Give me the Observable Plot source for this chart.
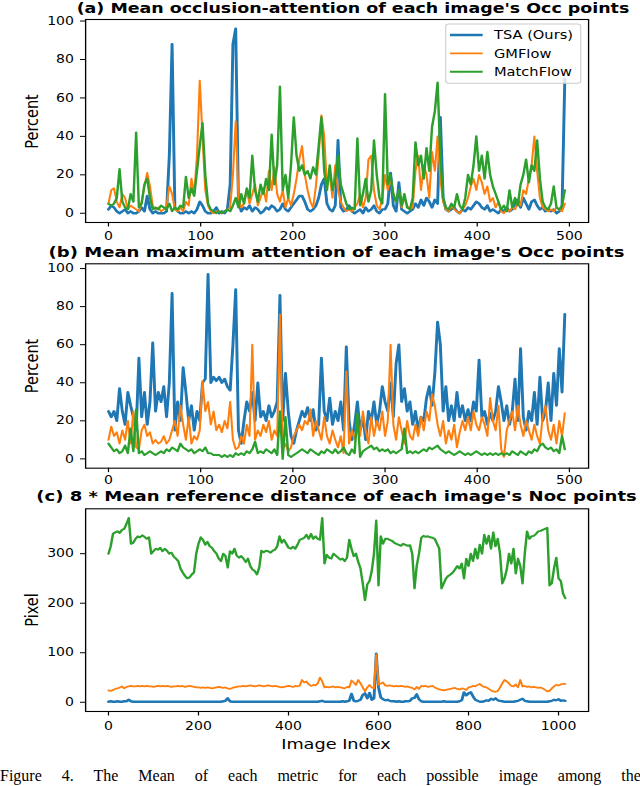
<!DOCTYPE html>
<html><head><meta charset="utf-8">
<script src="https://cdn.jsdelivr.net/npm/d3@7"></script>
<script src="https://cdn.jsdelivr.net/npm/@observablehq/plot@0.6"></script>
<style>
html,body{margin:0;padding:0;background:#fff;overflow:hidden;width:640px;height:786px;}
#stage{position:absolute;left:0;top:0;width:524.6px;height:786px;transform:scaleX(1.22);transform-origin:0 0;}
#caption{position:absolute;left:0;top:767px;width:640px;font-family:"Liberation Serif",serif;font-size:16px;line-height:18px;white-space:nowrap;color:#000;word-spacing:16px;}
</style></head>
<body>
<div id="stage"></div>
<div id="caption">Figure 4. The Mean of each metric for each possible image among the</div>
<script>
// ---------- data ----------
const seriesNames = ["TSA (Ours)", "GMFlow", "MatchFlow"];
const stepAB = 3;   // image-index spacing of samples in panels (a),(b)
const stepC = 5;    // image-index spacing of samples in panel (c)
const xTicksAB = [0, 100, 200, 300, 400, 500];
const xTicksC = [0, 200, 400, 600, 800, 1000];
const yTicksAB = [0, 20, 40, 60, 80, 100];
const yTicksC = [0, 100, 200, 300];

// (a) occlusion-attention, percent
const tsaA = [2,4,3,1,0,1,2,0,1,0, 0,1,3,1,9,2,0,1,0,0, 0,1,30,88,3,1,0,0,1,0, 1,0,2,6,4,1,0,0,1,3,
  0,1,0,2,15,88,96,6,1,3, 2,4,1,3,2,0,1,3,2,4, 3,1,2,5,2,1,3,5,7,9, 9,6,2,1,2,4,8,15,18,5,
  2,1,4,38,3,1,2,4,1,0, 1,2,0,3,1,2,4,1,0,2, 2,5,21,4,1,16,2,1,0,1, 2,5,3,7,4,8,6,3,7,5,
  50,8,2,1,2,3,1,0,2,1, 3,2,4,6,5,3,2,4,1,2, 1,0,2,1,3,1,2,5,7,3, 8,5,2,6,7,4,2,3,1,2, 1,2,0,1,3,70];
const gmA = [5,12,13,6,3,10,8,2,4,3, 2,1,6,14,21,14,4,2,3,1, 2,4,14,10,2,1,3,1,6,4, 18,10,30,69,40,12,4,1,0,1,
  1,0,1,2,3,20,48,8,3,5, 12,5,10,15,4,8,13,6,22,12, 24,10,6,12,3,8,4,10,18,28, 35,20,12,6,3,14,30,51,40,14,
  20,8,25,12,6,3,1,2,1,3, 5,10,3,8,28,30,12,4,2,8, 20,12,18,10,6,12,3,8,4,2, 3,22,30,12,25,20,8,32,22,40,
  18,6,2,1,4,2,1,0,2,4, 8,14,18,12,20,16,10,14,6,8, 3,6,1,0,2,1,3,2,6,4, 12,10,18,25,40,22,8,3,2,1, 2,1,3,2,1,5];
const mfA = [5,4,5,8,23,6,3,2,10,6, 42,3,5,15,18,8,2,3,2,4, 3,2,5,1,3,2,4,3,19,8, 13,9,22,35,47,20,5,2,1,0,
  1,0,1,2,1,4,8,3,10,5, 13,8,30,12,6,15,10,18,12,41, 15,25,66,12,20,8,25,50,30,22, 25,20,22,18,24,20,35,50,22,12,
  25,12,18,30,15,10,5,2,3,2, 39,4,10,18,6,12,38,20,8,5, 62,15,20,10,6,12,4,10,3,2, 8,37,25,30,18,34,22,45,53,68,
  30,8,3,2,5,3,10,4,2,8, 20,15,25,40,22,30,18,32,20,14, 10,6,2,4,1,12,3,8,4,15, 20,28,16,25,22,38,18,6,3,2, 5,14,3,2,4,12];

// (b) maximum attention, percent
const tsaB = [25,22,25,20,37,25,18,35,28,22, 15,53,22,35,18,30,61,25,35,30, 38,22,40,87,15,30,20,48,35,20, 28,15,25,20,40,42,97,40,43,41,
  43,40,42,38,36,60,89,15,8,20, 30,25,35,20,40,22,25,20,28,22, 25,30,86,20,45,25,12,8,15,20, 25,22,27,20,26,15,18,53,25,20,
  32,18,25,20,30,15,59,20,10,18, 30,15,22,10,25,20,30,18,25,38, 30,25,40,22,50,60,30,37,25,30, 18,25,15,22,20,32,38,28,45,72,
  60,25,38,20,28,20,35,22,28,20, 26,20,30,25,52,22,25,18,24,20, 25,38,30,20,28,18,25,42,20,58, 22,15,25,20,35,18,43,20,25,40, 20,45,28,58,35,76];
const gmB = [10,17,12,14,8,15,10,20,8,25, 6,5,15,18,12,14,8,10,8,9, 12,8,10,15,20,12,28,18,10,22, 8,12,10,15,41,25,30,18,25,15,
  18,14,20,16,30,10,5,6,12,8, 18,12,60,10,15,12,18,14,20,10, 15,12,76,5,8,4,6,12,15,18, 15,20,18,26,12,20,15,10,22,12,
  8,15,10,6,12,3,46,8,15,10, 20,12,25,15,8,22,12,20,15,25, 12,20,60,18,10,22,15,8,20,12, 10,18,12,22,15,25,20,34,28,18,
  12,20,8,15,10,18,6,14,20,15, 22,15,25,18,15,22,18,12,32,20, 15,28,5,1,15,20,25,15,28,18, 12,20,15,10,18,12,8,22,28,15, 10,18,8,20,12,24];
const mfB = [8,6,4,5,3,4,7,3,16,4, 26,3,4,2,3,4,3,2,3,4, 3,5,4,6,5,4,8,6,5,4, 5,3,4,5,4,6,3,3,2,2,
  2,1,2,1,2,1,3,2,3,2, 4,3,5,9,3,4,3,5,4,3, 5,2,25,0,22,2,1,2,3,4, 5,4,3,5,4,3,2,4,3,5,
  4,3,5,3,4,6,3,2,5,3, 24,1,4,5,6,7,5,6,4,5, 4,5,3,4,3,4,5,16,3,4, 3,4,3,4,5,4,6,5,6,7,
  5,4,3,4,3,2,3,4,3,2, 3,2,3,4,3,2,3,2,3,2, 3,2,3,2,3,2,4,3,2,4, 3,2,4,3,5,4,7,8,6,5, 6,4,5,3,12,5];

// (c) 8 * reference distance, pixel
const tsaC = [1,2,1,1,2,1,1,2,2,5,2,1,1,1,1,1,1,1,1,1, 1,1,1,1,1,1,1,1,1,1,1,1,1,1,1,1,1,1,1,1,
  1,1,1,1,1,1,1,1,1,1,1,2,3,8,2,1,1,1,1,1, 1,1,1,1,1,1,1,1,1,1,1,1,1,1,1,1,1,1,1,1,
  1,1,1,1,1,1,1,1,1,1,1,1,1,1,2,3,1,1,1,1, 1,1,1,1,2,1,2,3,17,3,2,3,5,15,18,8,19,5,8,98,
  30,10,6,4,5,3,2,2,1,2,1,1,2,2,3,8,9,16,6,2, 1,1,1,1,1,1,1,1,1,2,1,1,1,1,1,1,2,4,20,14,
  18,20,12,5,3,1,1,2,4,3,7,5,8,4,3,2,1,1,1,1, 1,2,3,5,7,3,2,1,1,1,1,1,1,1,1,1,2,3,5,4, 6,3,4,3];
const gmC = [24,23,25,27,28,30,32,28,31,32,33,32,32,33,32,33,32,33,32,32, 31,32,33,32,33,32,33,32,31,32,32,33,32,33,31,32,33,32,31,30,
  30,29,30,29,30,29,28,29,30,31,30,29,30,28,27,29,30,31,32,32, 33,32,33,34,33,32,33,34,33,32,33,34,33,32,33,32,31,30,31,32,
  33,32,31,33,32,34,45,40,42,36,33,35,34,38,50,42,30,31,30,31, 32,30,31,30,29,28,31,30,44,40,35,45,38,30,22,30,35,30,28,96,
  35,38,40,34,33,34,33,32,33,32,33,32,31,32,30,29,26,31,27,33, 32,33,31,32,33,30,28,26,25,24,25,26,27,28,29,27,26,28,27,25,
  30,31,33,32,35,37,33,31,30,27,24,22,21,23,30,38,45,42,38,33, 32,36,30,45,32,33,31,32,30,31,30,29,30,28,25,22,23,28,32,35, 34,36,37,37];
const mfC = [300,315,340,343,345,342,348,350,360,372,320,322,330,335,333,337,334,330,333,300,
  305,310,308,312,305,310,306,300,302,294,290,285,270,262,255,250,252,258,262,300,
  320,333,328,318,324,315,312,305,300,290,285,300,295,272,305,300,310,296,292,295,
  290,283,290,275,268,265,258,272,306,303,306,305,302,306,308,315,335,322,328,320,
  312,310,314,310,318,328,330,332,338,330,340,330,335,330,328,372,280,298,292,290,
  300,296,292,288,290,285,292,328,310,295,300,283,270,240,206,238,245,265,300,367,
  236,335,320,330,330,328,326,322,320,318,316,320,318,316,317,300,230,276,300,332,
  336,334,335,333,332,330,320,310,230,240,250,255,258,262,268,275,270,280,250,290,
  275,300,285,310,290,318,300,338,320,336,310,343,315,330,300,240,250,268,300,280,
  310,260,290,275,240,300,345,330,335,336,340,345,346,348,350,352,236,240,270,292,
  250,245,220,210];

// ---------- drawing ----------
const S = 1.22;              // horizontal stretch of the original figure
const W = 640 / S;
const ML = 85 / S, MR = (640 - 588) / S;
const colors = ["#1f77b4", "#ff7f0e", "#2ca02c"];
const widths = [2.4, 1.7, 2.0];
const stage = document.getElementById("stage");

function makePanel(cfg) {
  const marks = [
    Plot.axisX({ticks: cfg.xTicks, tickSize: 4.5, tickPadding: cfg.xPad, label: null, tickFormat: d => String(d), fontSize: 11.5}),
    Plot.axisY({ticks: cfg.yTicks, tickSize: 4.1, tickPadding: 5.5, label: null, tickFormat: d => String(d), fontSize: 11.5})
  ];
  cfg.series.forEach((vals, k) => {
    const rows = vals.map((v, i) => ({idx: i * cfg.step, val: v, name: seriesNames[k]}));
    marks.push(Plot.lineY(rows, {x: "idx", y: "val", stroke: colors[k], strokeWidth: widths[k], strokeLinejoin: "round"}));
  });
  marks.push(Plot.frame({stroke: "black", strokeWidth: 1.1}));
  const svg = Plot.plot({
    width: W, height: cfg.h, marginTop: cfg.mt, marginBottom: cfg.mb, marginLeft: ML, marginRight: MR,
    x: {domain: cfg.xDomain, label: null},
    y: {domain: cfg.yDomain, label: null},
    style: {fontFamily: "'DejaVu Sans'", fontSize: "11.5px", color: "black", background: "transparent", overflow: "visible"},
    marks
  });
  svg.style.position = "absolute";
  svg.style.left = "0px";
  svg.style.top = cfg.top + "px";
  svg.style.maxWidth = "none";
  stage.append(svg);
}

makePanel({series: [tsaA, gmA, mfA], step: stepAB, xDomain: [-24.8, 520.8], yDomain: [-4.8, 100.8],
  xTicks: xTicksAB, yTicks: yTicksAB, top: 0, mt: 19, h: 250, mb: 28, xPad: 4.6});
makePanel({series: [tsaB, gmB, mfB], step: stepAB, xDomain: [-24.8, 520.8], yDomain: [-4.9, 102.5],
  xTicks: xTicksAB, yTicks: yTicksAB, top: 250, mt: 13.3, h: 245, mb: 27.3, xPad: 3.2});
makePanel({series: [tsaC, gmC, mfC], step: stepC, xDomain: [-50.8, 1066.8], yDomain: [-18.6, 390.6],
  xTicks: xTicksC, yTicks: yTicksC, top: 495, mt: 13.3, h: 245, mb: 29, xPad: 5.5});

// titles, axis labels, legend
const cx = 336.5 / S;
const lx = 37.5 / S;
const legX = 445.7 / S, legY = 24, legW = 135 / S, legH = 59.3;
const rowsY = [35, 53.3, 71.7];
let legend = `<rect x="${legX}" y="${legY}" width="${legW}" height="${legH}" rx="2.5" fill="white" fill-opacity="0.8" stroke="#cccccc" stroke-width="0.9"/>`;
seriesNames.forEach((n, k) => {
  legend += `<line x1="${450 / S}" x2="${482.7 / S}" y1="${rowsY[k]}" y2="${rowsY[k]}" stroke="${colors[k]}" stroke-width="${widths[k]}"/>`;
  legend += `<text x="${494 / S}" y="${rowsY[k] + 4.3}" font-size="12">${n}</text>`;
});
const overlay = `<svg xmlns="http://www.w3.org/2000/svg" width="${W}" height="786" style="position:absolute;left:0;top:0;overflow:visible" font-family="DejaVu Sans" fill="black">
  <g font-weight="bold" text-anchor="middle">
    <text x="${353 / S}" y="13.4" font-size="14.3">(a) Mean occlusion-attention of each image's Occ points</text>
    <text x="${cx}" y="256.6" font-size="14.8">(b) Mean maximum attention of each image's Occ points</text>
    <text x="${cx}" y="501" font-size="14.8">(c) 8 * Mean reference distance of each image's Noc points</text>
  </g>
  <g font-size="14.5" text-anchor="middle">
    <text transform="translate(${lx},121.5) rotate(-90)">Percent</text>
    <text transform="translate(${lx},366) rotate(-90)">Percent</text>
    <text transform="translate(${lx},610) rotate(-90)">Pixel</text>
    <text x="${336 / S}" y="749.3">Image Index</text>
  </g>
  ${legend}
</svg>`;
stage.insertAdjacentHTML("beforeend", overlay);
</script>
</body></html>
